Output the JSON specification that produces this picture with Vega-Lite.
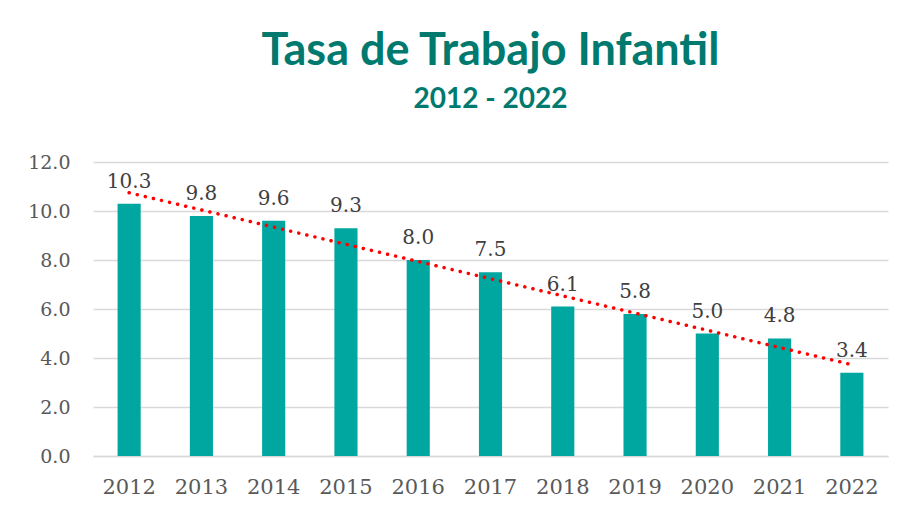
{
  "$schema": "https://vega.github.io/schema/vega-lite/v6.json",
  "width": 795,
  "height": 294,
  "autosize": {"type": "none"},
  "padding": {"left": 93, "top": 162, "right": 18, "bottom": 54},
  "background": "white",
  "title": {
    "text": "Tasa de Trabajo Infantil",
    "subtitle": "2012 - 2022",
    "font": "Lato",
    "fontSize": 45,
    "fontWeight": "bold",
    "color": "#00796F",
    "subtitleFont": "Lato",
    "subtitleFontSize": 28,
    "subtitleFontWeight": "bold",
    "subtitleColor": "#00796F",
    "anchor": "middle",
    "offset": 39,
    "subtitlePadding": 12
  },
  "config": {"view": {"stroke": null}},
  "data": {
    "values": [
      {"year": 2012, "rate": 10.3},
      {"year": 2013, "rate": 9.8},
      {"year": 2014, "rate": 9.6},
      {"year": 2015, "rate": 9.3},
      {"year": 2016, "rate": 8.0},
      {"year": 2017, "rate": 7.5},
      {"year": 2018, "rate": 6.1},
      {"year": 2019, "rate": 5.8},
      {"year": 2020, "rate": 5.0},
      {"year": 2021, "rate": 4.8},
      {"year": 2022, "rate": 3.4}
    ]
  },
  "encoding": {
    "x": {
      "field": "year",
      "type": "ordinal",
      "scale": {"paddingInner": 0.68, "paddingOuter": 0.34},
      "axis": {
        "title": null,
        "labelAngle": 0,
        "labelFont": "DejaVu Serif",
        "labelFontSize": 21,
        "labelColor": "#595959",
        "ticks": false,
        "domainColor": "#D9D9D9",
        "domainWidth": 1.3,
        "labelPadding": 20
      }
    },
    "y": {
      "field": "rate",
      "type": "quantitative",
      "scale": {"domain": [0, 12], "nice": false},
      "axis": {
        "title": null,
        "values": [0, 2, 4, 6, 8, 10, 12],
        "format": ".1f",
        "labelFont": "DejaVu Serif",
        "labelFontSize": 19,
        "labelColor": "#595959",
        "ticks": false,
        "domain": false,
        "grid": true,
        "gridColor": "#D9D9D9",
        "gridWidth": 1.3,
        "labelPadding": 23
      }
    }
  },
  "layer": [
    {"mark": {"type": "bar", "color": "#00A6A0"}},
    {
      "transform": [{"regression": "rate", "on": "year"}],
      "mark": {
        "type": "line",
        "color": "#FF0000",
        "strokeWidth": 3.5,
        "strokeDash": [0.1, 8.2],
        "strokeCap": "round"
      }
    },
    {
      "mark": {
        "type": "text",
        "baseline": "alphabetic",
        "dy": -16,
        "font": "DejaVu Serif",
        "fontSize": 20,
        "color": "#404040"
      },
      "encoding": {"text": {"field": "rate", "type": "quantitative", "format": ".1f"}}
    }
  ]
}
